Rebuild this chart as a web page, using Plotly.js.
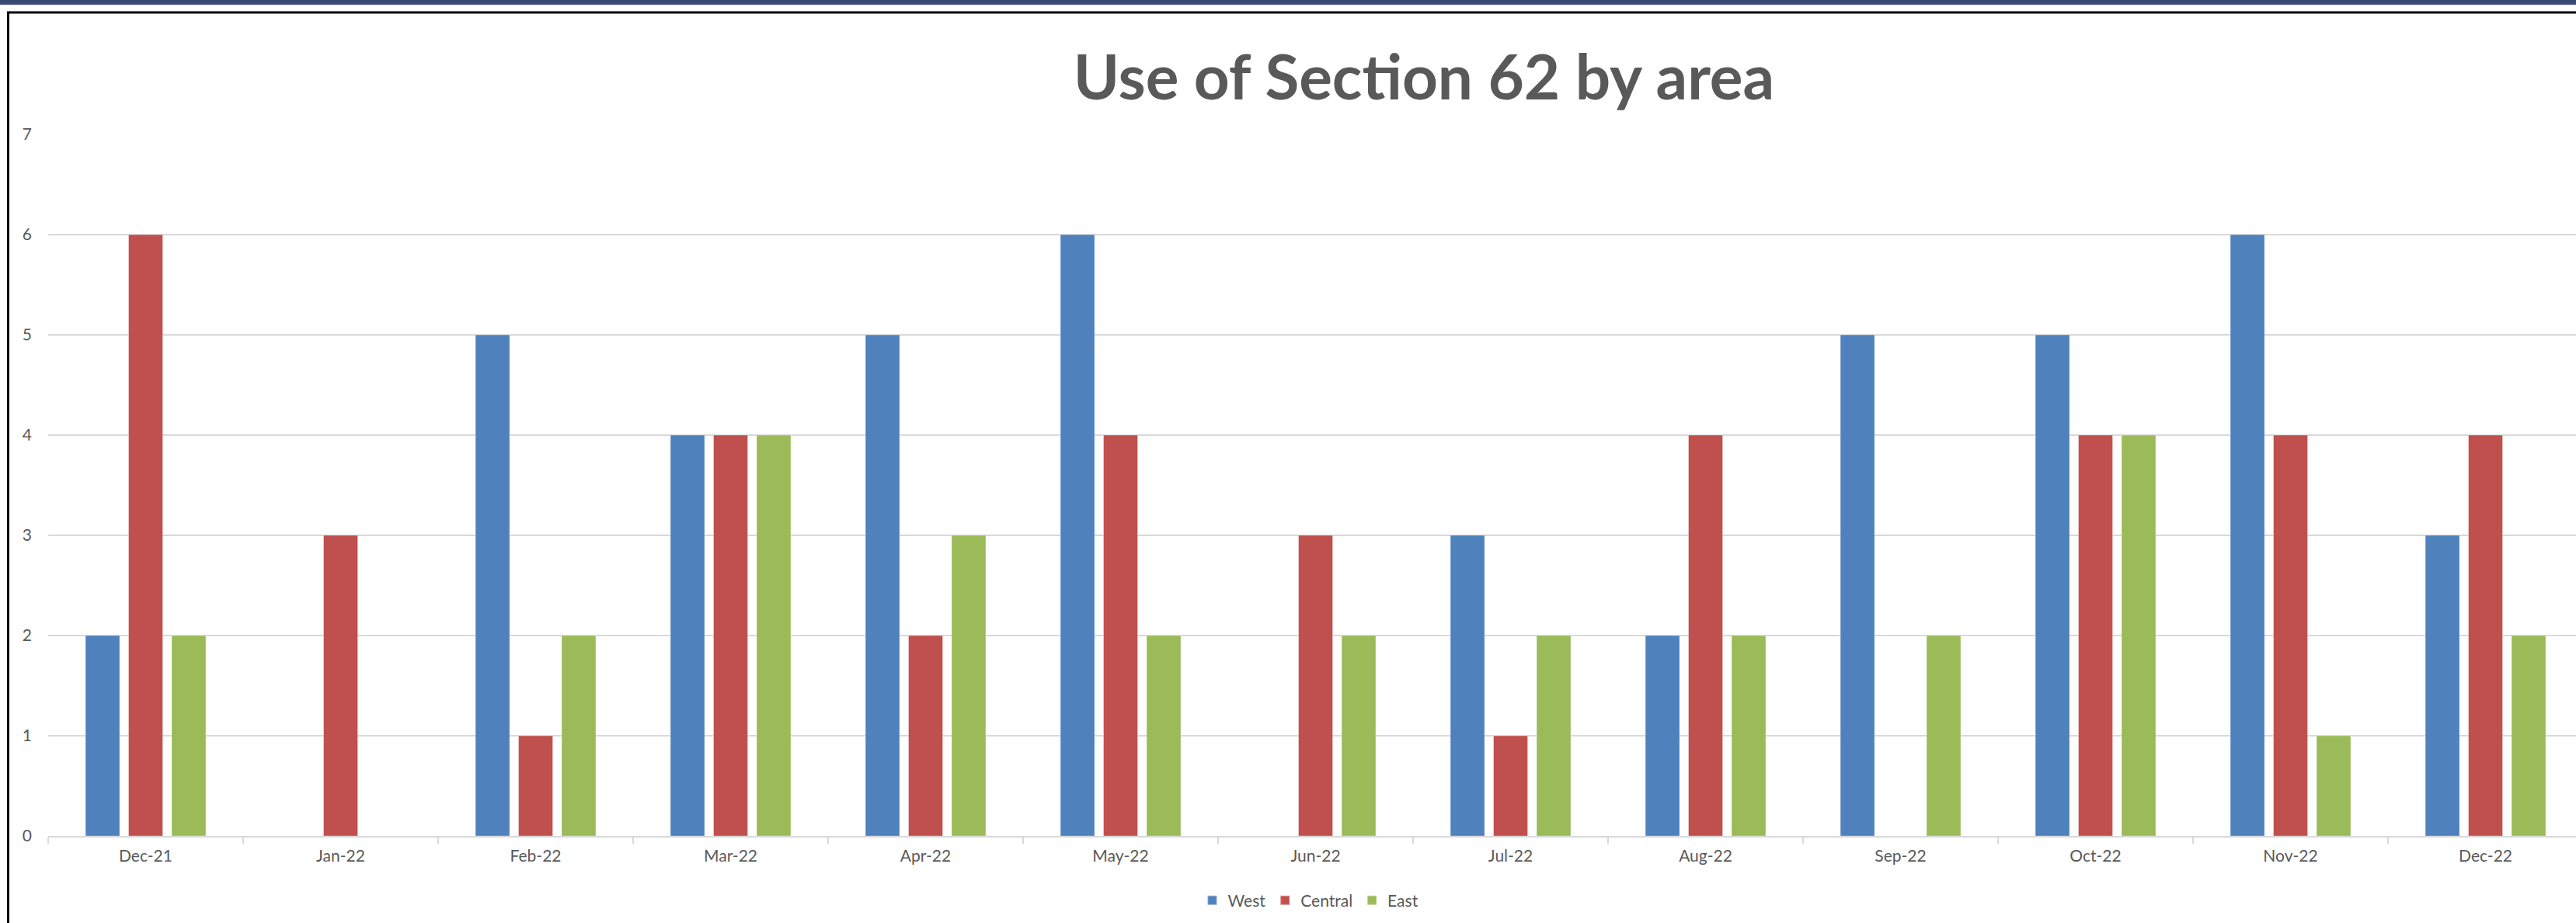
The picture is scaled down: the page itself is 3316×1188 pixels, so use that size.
<!DOCTYPE html>
<html>
<head>
<meta charset="utf-8">
<script src="https://cdn.plot.ly/plotly-3.0.1.min.js"></script>
<style>
  html, body { margin: 0; padding: 0; background: #ffffff; overflow: hidden; }
  #chart { width: 3316px; height: 1188px; }
</style>
</head>
<body>
<div id="chart"></div>
<script>
// Monthly use of Section 62, split by area
const months = ["Dec-21", "Jan-22", "Feb-22", "Mar-22", "Apr-22", "May-22", "Jun-22",
                "Jul-22", "Aug-22", "Sep-22", "Oct-22", "Nov-22", "Dec-22"];
const west    = [2, 0, 5, 4, 5, 6, 0, 3, 2, 5, 5, 6, 3];
const central = [6, 3, 1, 4, 2, 4, 3, 1, 4, 0, 4, 4, 4];
const east    = [2, 0, 2, 4, 3, 2, 2, 2, 2, 2, 4, 1, 2];
const yTicks  = [0, 1, 2, 3, 4, 5, 6, 7];

const areaNames  = ["West", "Central", "East"];
const areaValues = [west, central, east];
const areaColors = ["#4f81bd", "#c0504d", "#9bbb59"];

const W = 3316, H = 1188;
const plotL = 62, plotR = 3316, plotT = 173, plotB = 1076;
const pw = plotR - plotL, ph = plotB - plotT;
// pixel -> paper helpers for the decorative frame
const px = x => (x - plotL) / pw;
const py = y => (plotB - y) / ph;

const textColor = "#595959";
const font = "Lato, 'Open Sans', sans-serif";

const traces = areaNames.map((name, i) => ({
  type: "bar",
  name: name,
  x: months,
  y: areaValues[i],
  marker: { color: areaColors[i], line: { width: 1, color: "rgba(255,255,255,0.35)" } },
  hoverinfo: "x+y+name"
}));

const layout = {
  width: W,
  height: H,
  margin: { l: plotL, r: W - plotR, t: plotT, b: H - plotB, pad: 0 },
  paper_bgcolor: "#ffffff",
  plot_bgcolor: "#ffffff",
  barmode: "group",
  bargap: 0.337,
  bargroupgap: 0.207,
  font: { family: font, color: textColor, size: 21 },
  title: {
    text: "<b>Use of Section 62 by area</b>",
    font: { family: font, size: 80, color: textColor },
    xref: "paper",
    x: px(1833),
    xanchor: "center",
    yref: "container",
    y: 1 - 100 / H,
    yanchor: "middle"
  },
  xaxis: {
    type: "category",
    range: [-0.5, 12.464],
    showgrid: false,
    zeroline: false,
    showline: true,
    linecolor: "#d9d9d9",
    linewidth: 2,
    ticks: "outside",
    tickson: "boundaries",
    ticklen: 8,
    tickwidth: 2,
    tickcolor: "#d9d9d9",
    ticklabelstandoff: 6,
    tickfont: { family: font, size: 21, color: textColor },
    fixedrange: true
  },
  yaxis: {
    range: [0, 7],
    tickvals: yTicks,
    ticktext: yTicks.map(String),
    showgrid: true,
    gridcolor: "#d9d9d9",
    gridwidth: 2,
    zeroline: false,
    showline: false,
    ticks: "",
    ticklabelstandoff: 20,
    tickfont: { family: font, size: 21, color: textColor },
    fixedrange: true
  },
  legend: {
    orientation: "h",
    xref: "paper",
    x: px(1686),
    xanchor: "center",
    y: py(1159),
    yanchor: "middle",
    font: { family: font, size: 21, color: textColor },
    itemsizing: "constant",
    traceorder: "normal"
  },
  shapes: [
    // dark band along the top edge
    { type: "rect", xref: "paper", yref: "paper",
      x0: px(-5), x1: px(W + 5), y0: py(6), y1: py(-5),
      fillcolor: "#3b4a72", line: { width: 0 }, layer: "above" },
    // chart frame
    { type: "rect", xref: "paper", yref: "paper",
      x0: px(10.5), x1: px(W + 20), y0: py(H + 20), y1: py(16),
      fillcolor: "rgba(0,0,0,0)", line: { width: 3, color: "#000000" }, layer: "above" }
  ]
};

Plotly.newPlot("chart", traces, layout, { displayModeBar: false, staticPlot: true });
</script>
</body>
</html>
